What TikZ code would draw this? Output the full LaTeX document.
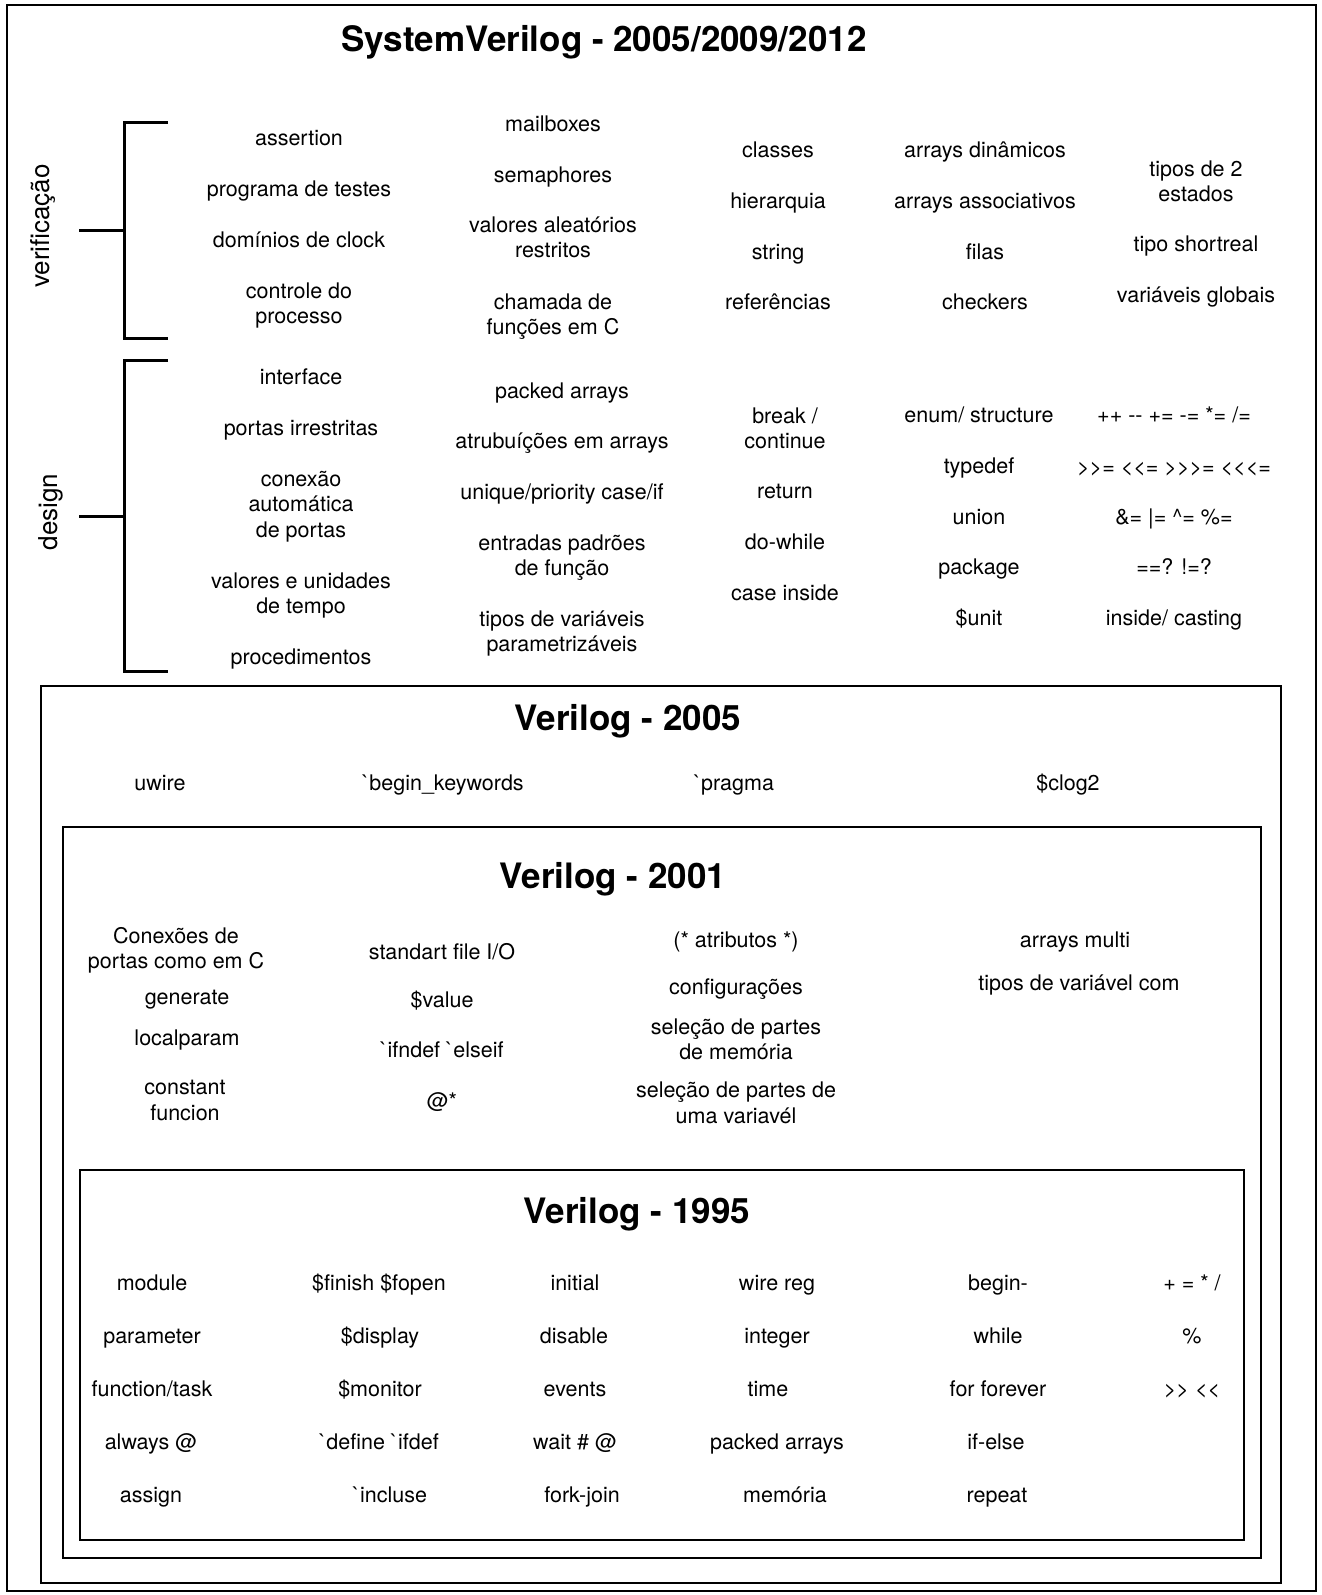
\documentclass[tikz,border=0pt]{standalone}
\usepackage{fontspec}
\setmainfont{TeX Gyre Heros}[Ligatures=TeXOff]
% invisible rule giving every text line the same height and depth
\newcommand\linestrut{\rule[-0.2em]{0pt}{1.1em}}
\begin{document}
\begin{tikzpicture}[x=1pt,y=-1pt,
  item/.style={align=center,inner sep=0pt,font=\fontsize{21.5}{25.6}\selectfont,
    execute at begin node=\linestrut, execute at end node=\linestrut},
  multi/.style={item,yshift=-2.5pt},
  head/.style={inner sep=0pt,yshift=-3pt,font=\fontsize{35}{40}\selectfont\bfseries},
  side/.style={inner sep=0pt,rotate=90,font=\fontsize{26}{30}\selectfont},
  frame/.style={draw,line width=2pt},
  bracket/.style={draw,line width=3pt}]
\useasboundingbox (0,0) rectangle (1322,1595);
% outer frame
\draw[line width=1.5pt] (7,5) rectangle (1316,1591);
\node[head] (tsv) at (604,39) {SystemVerilog - 2005/2009/2012};

% brackets on the left
\draw[bracket] (168,122) -- (124,122) -- (124,338) -- (168,338);
\draw[bracket] (79,230) -- (124,230);
\draw[bracket] (168,360) -- (124,360) -- (124,671) -- (168,671);
\draw[bracket] (79,516) -- (124,516);
\node[side] (lver) at (43,226) {verificação};
\node[side] (ldes) at (51,512) {design};

% verification features
\node[item] (a1) at (299,138) {assertion};
\node[item] (a2) at (299,189) {programa de testes};
\node[item] (a3) at (299,240) {domínios de clock};
\node[multi] (a4) at (299,303) {controle do\\processo};
\node[item] (b1) at (553,124) {mailboxes};
\node[item] (b2) at (553,175) {semaphores};
\node[multi] (b3) at (553,237) {valores aleatórios\\restritos};
\node[multi] (b4) at (553,314) {chamada de\\funções em C};
\node[item] (c1) at (778,150) {classes};
\node[item] (c2) at (778,201) {hierarquia};
\node[item] (c3) at (778,252) {string};
\node[item] (c4) at (778,302) {referências};
\node[item] (d1) at (985,150) {arrays dinâmicos};
\node[item] (d2) at (985,201) {arrays associativos};
\node[item] (d3) at (985,252) {filas};
\node[item] (d4) at (985,302) {checkers};
\node[multi] (e1) at (1196,181) {tipos de 2\\estados};
\node[item] (e2) at (1196,244) {tipo shortreal};
\node[item] (e3) at (1196,295) {variáveis globais};

% design features
\node[item] (f1) at (301,377) {interface};
\node[item] (f2) at (301,428) {portas irrestritas};
\node[multi] (f3) at (301,504) {conexão\\automática\\de portas};
\node[multi] (f4) at (301,593) {valores e unidades\\de tempo};
\node[item] (f5) at (301,657) {procedimentos};
\node[item] (g1) at (562,391) {packed arrays};
\node[item] (g2) at (562,441) {atrubuíções em arrays};
\node[item] (g3) at (562,492) {unique/priority case/if};
\node[multi] (g4) at (562,555) {entradas padrões\\de função};
\node[multi] (g5) at (562,631) {tipos de variáveis\\parametrizáveis};
\node[multi] (h1) at (785,428) {break /\\continue};
\node[item] (h2) at (785,491) {return};
\node[item] (h3) at (785,542) {do-while};
\node[item] (h4) at (785,593) {case inside};
\node[item] (i1) at (979,415) {enum/ structure};
\node[item] (i2) at (979,466) {typedef};
\node[item] (i3) at (979,517) {union};
\node[item] (i4) at (979,567) {package};
\node[item] (i5) at (979,618) {\$unit};
\node[item] (j1) at (1174,415) {++ -- += -= *= /=};
\node[item] (j2) at (1174,467) {>>= <<= >>>= <<<=};
\node[item] (j3) at (1174,517) {\&= |= \textasciicircum= \%=};
\node[item] (j4) at (1174,567) {==? !=?};
\node[item] (j5) at (1174,618) {inside/ casting};

% Verilog-2005
\draw[frame] (41,686) rectangle (1281,1583);
\node[head] (t05) at (628,718) {Verilog - 2005};
\node[item] (k1) at (160,783) {uwire};
\node[item] (k2) at (443,783) {`begin\_keywords};
\node[item] (k3) at (734,783) {`pragma};
\node[item] (k4) at (1068,783) {\$clog2};

% Verilog-2001
\draw[frame] (63,827) rectangle (1261,1558);
\node[head] (t01) at (613,876) {Verilog - 2001};
\node[multi] (m1) at (176,948) {Conexões de\\portas como em C};
\node[item] (m2) at (187,997) {generate};
\node[item] (m3) at (187,1038) {localparam};
\node[multi] (m4) at (185,1100) {constant\\funcion};
\node[item] (n1) at (442,952) {standart file I/O};
\node[item] (n2) at (442,1000) {\$value};
\node[item] (n3) at (442,1050) {`ifndef `elseif};
\node[item] (n4) at (442,1101) {@*};
\node[item] (o1) at (736,940) {(* atributos *)};
\node[item] (o2) at (736,987) {configurações};
\node[multi] (o3) at (736,1039) {seleção de partes\\de memória};
\node[multi] (o4) at (736,1102) {seleção de partes de\\uma variavél};
\node[item] (p1) at (1075,940) {arrays multi};
\node[item] (p2) at (1079,983) {tipos de variável com};

% Verilog-1995
\draw[frame] (80,1170) rectangle (1244,1540);
\node[head] (t95) at (637,1211) {Verilog - 1995};
\node[item] (q1) at (152,1283) {module};
\node[item] (q2) at (152,1336) {parameter};
\node[item] (q3) at (152,1389) {function/task};
\node[item] (q4) at (151,1442) {always @};
\node[item] (q5) at (151,1495) {assign};
\node[item] (r1) at (379,1283) {\$finish \$fopen};
\node[item] (r2) at (380,1336) {\$display};
\node[item] (r3) at (380,1389) {\$monitor};
\node[item] (r4) at (379,1442) {`define `ifdef};
\node[item] (r5) at (390,1495) {`incluse};
\node[item] (s1) at (575,1283) {initial};
\node[item] (s2) at (574,1336) {disable};
\node[item] (s3) at (575,1389) {events};
\node[item] (s4) at (575,1442) {wait \# @};
\node[item] (s5) at (582,1495) {fork-join};
\node[item] (u1) at (777,1283) {wire reg};
\node[item] (u2) at (777,1336) {integer};
\node[item] (u3) at (768,1389) {time};
\node[item] (u4) at (777,1442) {packed arrays};
\node[item] (u5) at (785,1495) {memória};
\node[item] (w1) at (998,1283) {begin-};
\node[item] (w2) at (998,1336) {while};
\node[item] (w3) at (998,1389) {for forever};
\node[item] (w4) at (996,1442) {if-else};
\node[item] (w5) at (997,1495) {repeat};
\node[item] (z1) at (1192,1283) {+ = * /};
\node[item] (z2) at (1192,1336) {\%};
\node[item] (z3) at (1192,1389) {>> <<};
\end{tikzpicture}
\end{document}
